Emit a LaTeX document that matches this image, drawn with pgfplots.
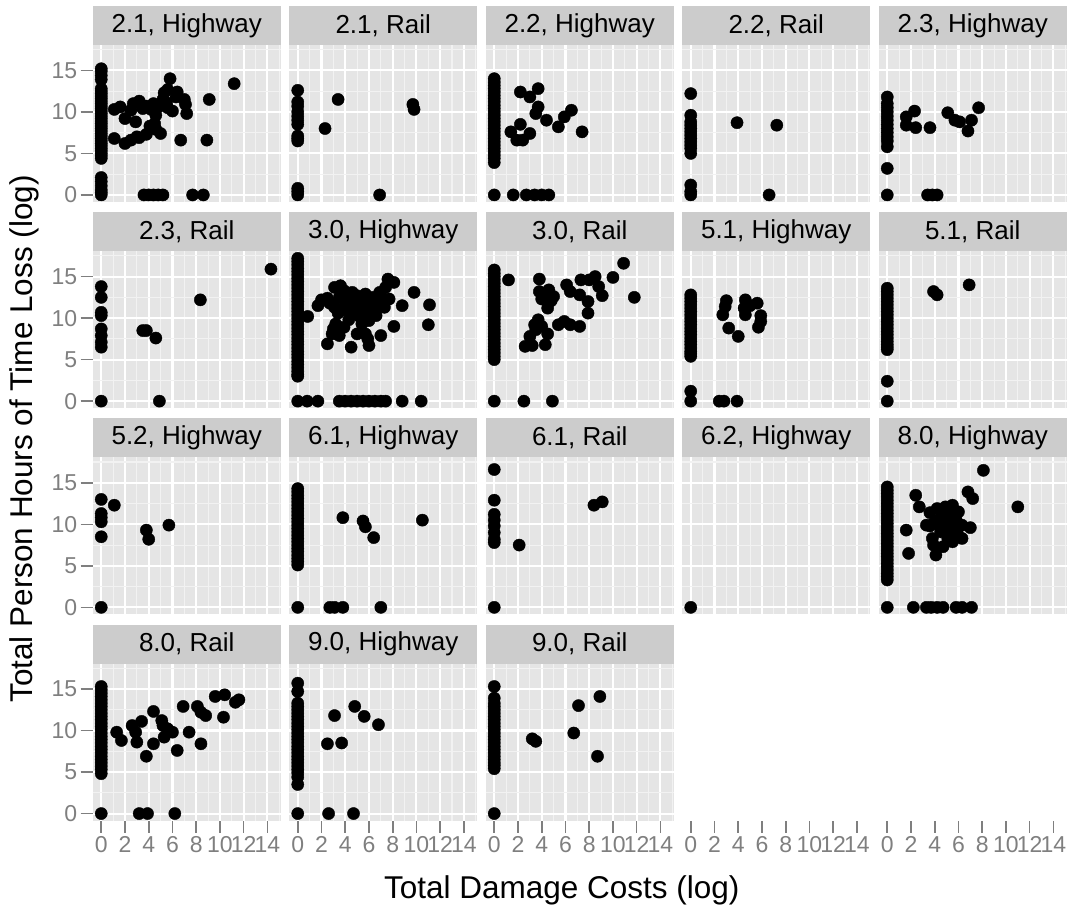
\documentclass[border=0pt]{standalone}
\usepackage{pgfplots}
\pgfplotsset{compat=1.18}
\usepackage{fontspec}
\setmainfont{Liberation Sans}
\definecolor{pbg}{HTML}{E5E5E5}
\definecolor{gminor}{HTML}{F2F2F2}
\definecolor{stripc}{HTML}{CCCCCC}
\definecolor{grey50}{HTML}{7F7F7F}
\newcommand{\ticksize}{\fontsize{23}{27}\selectfont}
\newcommand{\stripsize}{\fontsize{26}{30}\selectfont}
\newcommand{\titlesize}{\fontsize{31.5}{36}\selectfont}
\pgfplotsset{
 fac/.style={
  width=188pt, height=157.1pt, scale only axis, anchor=south west,
  xmin=-0.72, xmax=15.12, ymin=-0.86, ymax=18.06,
  axis lines*=left, axis line style={draw=none},
  axis background/.style={fill=pbg},
  xtick={0,2,...,14}, ytick={0,5,10,15},
  minor xtick={1,3,...,15}, minor ytick={2.5,7.5,12.5,17.5},
  grid=both, major grid style={white, line width=2.1pt},
  minor grid style={gminor, line width=1.1pt},
  tick align=outside, major tick length=12pt, minor tick length=0pt,
  tick style={grey50, line width=1.6pt},
  minor tick style={draw=none},
  tick label style={font=\ticksize, text=grey50},
  /pgf/number format/assume math mode=true,
  xmajorticks=false, ymajorticks=false,
  every axis title/.style={at={(0.5,1)}, anchor=south, fill=stripc,
    minimum width=188pt, minimum height=39pt, inner sep=0pt, outer sep=0pt,
    font=\stripsize, text=black},
 },
 yt/.style={ymajorticks=true},
 xt/.style={xmajorticks=true},
 pts/.style={only marks, mark=*, mark size=6.1pt, black},
}
\begin{document}
\begin{tikzpicture}
\useasboundingbox (0,0) rectangle (1076pt,909pt);
% ---------------- row 1
\begin{axis}[fac, yt, at={(92.7pt,706.9pt)}, title={2.1, Highway}]
\addplot[pts] coordinates {(0,15.2)(0,14.9)(0,14.4)(0,13.9)(0,12.8)(0,12.5)(0,12.2)(0,11.9)(0,11.6)(0,11.3)(0,11.0)(0,10.7)(0,10.4)(0,10.1)(0,9.8)(0,9.5)(0,9.2)(0,8.9)(0,8.6)(0,8.3)(0,8.0)(0,7.7)(0,7.4)(0,7.1)(0,6.8)(0,6.5)(0,6.2)(0,5.9)(0,5.6)(0,5.3)(0,5.0)(0,4.7)(0,4.4)(0,2.1)(0,1.6)(0,1.1)(0,0.6)(0,0.3)(0,0)
(1.1,10.3)(1.1,6.8)(2.0,9.2)(2.0,6.2)(2.5,10.2)(2.5,6.6)(2.9,8.8)(3.2,11.3)(3.2,6.9)(3.8,10.7)(3.8,7.3)(4.2,10.3)(4.1,8.3)(4.5,8.6)(4.6,9.6)(4.8,10.6)(5.0,7.4)(5.2,11.5)(5.3,12.3)(5.8,14.0)(5.6,12.7)(5.5,11.1)(6.0,10.1)(6.4,12.4)(7.0,11.5)(7.2,9.8)(6.7,6.6)(9.1,11.5)(8.9,6.6)(11.2,13.4)(1.6,10.6)(2.7,11.0)(3.5,10.4)(4.4,11.0)(3.0,7.0)(4.6,7.9)(5.6,10.5)(6.3,11.8)(7.1,10.9)
(3.6,0)(4.0,0)(4.4,0)(4.8,0)(5.2,0)(7.7,0)(8.6,0)};
\end{axis}
\begin{axis}[fac, at={(289.2pt,706.9pt)}, title={2.1, Rail}]
\addplot[pts] coordinates {(0,12.6)(0,11.2)(0,10.7)(0,10.0)(0,9.5)(0,9.0)(0,8.5)(0,7.1)(0,6.8)(0,6.5)(0,0.8)(0,0.4)(0,0)(3.4,11.5)(2.3,8.0)(9.7,10.9)(9.8,10.3)(6.9,0)};
\end{axis}
\begin{axis}[fac, at={(485.7pt,706.9pt)}, title={2.2, Highway}]
\addplot[pts] coordinates {(0,14.0)(0,13.6)(0,13.2)(0,12.8)(0,12.4)(0,12.0)(0,11.6)(0,11.2)(0,10.8)(0,10.4)(0,10.0)(0,9.6)(0,9.2)(0,8.8)(0,8.4)(0,8.0)(0,7.6)(0,7.2)(0,6.8)(0,6.4)(0,6.0)(0,5.6)(0,5.2)(0,4.8)(0,4.4)(0,3.9)(0,0)
(2.2,12.4)(3.0,11.8)(3.7,12.8)(3.7,10.6)(3.5,9.8)(4.4,9.0)(6.5,10.2)(5.9,9.4)(5.4,8.2)(2.2,8.5)(1.4,7.6)(1.9,6.6)(3.0,7.4)(7.4,7.6)(2.4,6.6)
(1.6,0)(2.7,0)(3.4,0)(4.0,0)(4.6,0)};
\end{axis}
\begin{axis}[fac, at={(682.2pt,706.9pt)}, title={2.2, Rail}]
\addplot[pts] coordinates {(0,12.2)(0,9.6)(0,8.8)(0,8.4)(0,8.0)(0,7.6)(0,7.2)(0,6.8)(0,6.4)(0,6.0)(0,5.6)(0,5.0)(0,1.2)(0,0.4)(0,0)(3.9,8.7)(7.25,8.4)(6.6,0)};
\end{axis}
\begin{axis}[fac, at={(878.7pt,706.9pt)}, title={2.3, Highway}]
\addplot[pts] coordinates {(0,11.8)(0,11.0)(0,10.5)(0,10.0)(0,9.5)(0,9.0)(0,8.5)(0,8.0)(0,7.5)(0,7.0)(0,6.5)(0,5.8)(0,3.2)(0,0)(2.3,10.1)(1.6,9.4)(1.6,8.4)(2.4,8.1)(3.6,8.1)(5.1,9.9)(5.7,9.0)(6.1,8.8)(7.1,9.0)(6.8,7.7)(7.7,10.5)(3.4,0)(3.8,0)(4.2,0)};
\end{axis}
% ---------------- row 2
\begin{axis}[fac, yt, at={(92.7pt,500.7pt)}, title={2.3, Rail}]
\addplot[pts] coordinates {(0,13.8)(0,12.5)(0,10.7)(0,10.3)(0,8.7)(0,7.9)(0,7.1)(0,6.5)(0,0)(3.5,8.5)(3.8,8.5)(4.6,7.6)(4.9,0)(8.35,12.2)(14.3,15.9)};
\end{axis}
\begin{axis}[fac, at={(289.2pt,500.7pt)}, title={3.0, Highway}]
\addplot[pts] coordinates {(0,17.2)(0,16.8)(0,16.4)(0,16.0)(0,15.6)(0,15.2)(0,14.8)(0,14.4)(0,14.0)(0,13.6)(0,13.2)(0,12.8)(0,12.4)(0,12.0)(0,11.6)(0,11.2)(0,10.8)(0,10.4)(0,10.0)(0,9.6)(0,9.2)(0,8.8)(0,8.4)(0,8.0)(0,7.6)(0,7.2)(0,6.8)(0,6.4)(0,6.0)(0,5.6)(0,5.2)(0,4.8)(0,4.4)(0,4.0)(0,3.6)(0,3.2)(0,3.0)(0,0)
(0.84,10.2)(1.7,11.5)(2.0,12.2)(2.5,12.4)(3.1,13.7)(3.6,13.9)(3.9,13.3)(4.2,12.3)(4.6,13.1)(5.0,12.7)(5.5,12.3)(5.7,12.9)(6.3,12.5)(6.9,13.1)(7.4,13.7)(7.6,14.7)(8.1,14.3)(7.3,11.3)(7.7,12.3)
(3.8,11.0)(4.3,11.4)(4.9,11.0)(5.4,11.8)(6.0,11.4)(6.5,11.2)(4.6,10.6)(5.2,10.2)(5.7,10.8)(3.4,10.6)(3.1,11.3)(4.0,11.9)(4.8,12.0)(5.3,11.3)(6.2,12.0)(6.8,11.8)(7.0,12.6)(2.7,11.8)(3.5,12.5)(4.4,12.7)(5.9,10.5)(6.6,10.3)
(3.2,9.3)(3.9,8.9)(2.9,8.1)(2.5,6.9)(3.5,7.9)(4.5,6.5)(5.0,8.1)(5.7,8.1)(5.9,7.5)(6.0,6.7)(6.0,9.7)(7.0,7.9)(8.1,9.0)(8.8,11.5)(9.8,13.1)(11.1,11.6)(11.0,9.2)(4.3,9.8)(5.4,9.3)(3.0,8.7)
(0.8,0)(1.7,0)(3.5,0)(4.0,0)(4.5,0)(5.0,0)(5.5,0)(6.0,0)(6.5,0)(7.0,0)(7.4,0)(8.8,0)(10.4,0)};
\end{axis}
\begin{axis}[fac, at={(485.7pt,500.7pt)}, title={3.0, Rail}]
\addplot[pts] coordinates {(0,15.8)(0,15.4)(0,15.0)(0,14.6)(0,14.2)(0,13.8)(0,13.4)(0,13.0)(0,12.6)(0,12.2)(0,11.8)(0,11.4)(0,11.0)(0,10.6)(0,10.2)(0,9.8)(0,9.4)(0,9.0)(0,8.6)(0,8.2)(0,7.8)(0,7.4)(0,7.0)(0,6.6)(0,6.2)(0,5.8)(0,5.4)(0,5.0)(0,0)(2.5,0)(4.9,0)
(1.2,14.6)(3.8,14.7)(3.8,13.2)(4.0,12.3)(4.6,13.4)(5.0,12.6)(4.5,11.2)(6.1,14.0)(6.4,13.2)(7.2,12.8)(7.3,14.6)(8.0,14.6)(8.5,15.0)(8.8,13.8)(9.1,12.7)(7.9,12.0)(7.9,10.6)(10.0,14.9)(10.9,16.6)(11.8,12.5)(3.7,9.8)(3.4,9.2)(3.5,8.6)(3.0,7.8)(2.6,6.6)(3.2,6.7)(4.3,6.8)(4.5,8.1)(4.0,9.0)(5.4,9.2)(5.9,9.6)(6.4,9.2)(7.2,9.0)(4.3,12.8)(4.8,12.1)};
\end{axis}
\begin{axis}[fac, at={(682.2pt,500.7pt)}, title={5.1, Highway}]
\addplot[pts] coordinates {(0,12.8)(0,12.4)(0,12.0)(0,11.6)(0,11.2)(0,10.8)(0,10.4)(0,10.0)(0,9.6)(0,9.2)(0,8.8)(0,8.4)(0,8.0)(0,7.6)(0,7.2)(0,6.8)(0,6.4)(0,6.0)(0,5.7)(0,5.4)(0,1.2)(0,0)(2.4,0)(2.8,0)(3.9,0)
(3.0,12.1)(2.9,11.4)(2.7,10.4)(4.6,12.2)(4.5,11.2)(4.6,10.4)(5.6,11.8)(5.9,10.3)(5.7,8.9)(3.2,8.8)(4.0,7.8)(5.0,11.5)(5.9,9.6)};
\end{axis}
\begin{axis}[fac, at={(878.7pt,500.7pt)}, title={5.1, Rail}]
\addplot[pts] coordinates {(0,13.6)(0,13.2)(0,12.8)(0,12.4)(0,12.0)(0,11.6)(0,11.2)(0,10.8)(0,10.4)(0,10.0)(0,9.6)(0,9.2)(0,8.8)(0,8.4)(0,8.0)(0,7.6)(0,7.2)(0,6.8)(0,6.5)(0,6.2)(0,2.4)(0,0)(3.9,13.2)(4.2,12.8)(6.9,14.0)};
\end{axis}
% ---------------- row 3
\begin{axis}[fac, yt, at={(92.7pt,294.5pt)}, title={5.2, Highway}]
\addplot[pts] coordinates {(0,13.0)(0,11.3)(0,10.8)(0,10.3)(0,8.5)(0,0)(1.1,12.3)(3.8,9.3)(4.0,8.2)(5.7,9.9)};
\end{axis}
\begin{axis}[fac, at={(289.2pt,294.5pt)}, title={6.1, Highway}]
\addplot[pts] coordinates {(0,14.3)(0,13.9)(0,13.5)(0,13.1)(0,12.7)(0,12.3)(0,11.9)(0,11.5)(0,11.1)(0,10.7)(0,10.3)(0,9.9)(0,9.5)(0,9.1)(0,8.7)(0,8.3)(0,7.9)(0,7.5)(0,7.1)(0,6.7)(0,6.3)(0,5.9)(0,5.5)(0,5.1)(0,0)(2.7,0)(3.1,0)(3.8,0)(7.0,0)
(3.8,10.8)(5.5,10.4)(5.7,9.7)(6.4,8.4)(10.5,10.5)};
\end{axis}
\begin{axis}[fac, at={(485.7pt,294.5pt)}, title={6.1, Rail}]
\addplot[pts] coordinates {(0,16.6)(0,12.9)(0,11.2)(0,10.5)(0,9.8)(0,9.0)(0,8.2)(0,7.8)(0,0)(2.1,7.5)(8.4,12.3)(9.1,12.7)};
\end{axis}
\begin{axis}[fac, at={(682.2pt,294.5pt)}, title={6.2, Highway}]
\addplot[pts] coordinates {(0,0)};
\end{axis}
\begin{axis}[fac, at={(878.7pt,294.5pt)}, title={8.0, Highway}]
\addplot[pts] coordinates {(0,14.5)(0,14.1)(0,13.7)(0,13.3)(0,12.9)(0,12.5)(0,12.1)(0,11.7)(0,11.3)(0,10.9)(0,10.5)(0,10.1)(0,9.7)(0,9.3)(0,8.9)(0,8.5)(0,8.1)(0,7.7)(0,7.3)(0,6.9)(0,6.5)(0,6.1)(0,5.7)(0,5.3)(0,4.9)(0,4.5)(0,4.1)(0,3.7)(0,3.3)(0,0)
(8.1,16.5)(11.0,12.1)(2.4,13.5)(2.7,12.1)(1.6,9.3)(1.8,6.5)(6.8,13.9)(7.2,13.1)(3.6,11.4)(4.2,11.9)(4.9,12.1)(5.5,12.3)(3.3,9.9)(3.9,10.1)(4.5,10.7)(5.2,11.1)(5.8,10.5)(6.3,9.9)(7.0,9.6)(3.9,7.5)(4.7,7.3)(5.5,7.9)(6.3,8.3)(4.1,6.3)(4.5,9.1)(5.3,8.9)(5.9,8.9)(3.6,9.8)(4.3,10.4)(5.0,10.0)(5.6,9.7)(6.0,11.5)(4.8,11.4)(3.8,8.3)(5.1,8.3)
(2.2,0)(3.3,0)(3.7,0)(4.2,0)(4.7,0)(5.8,0)(6.3,0)(7.1,0)};
\end{axis}
% ---------------- row 4
\begin{axis}[fac, yt, xt, at={(92.7pt,88.3pt)}, title={8.0, Rail}]
\addplot[pts] coordinates {(0,15.3)(0,14.9)(0,14.5)(0,14.1)(0,13.7)(0,13.3)(0,12.9)(0,12.5)(0,12.1)(0,11.7)(0,11.3)(0,10.9)(0,10.5)(0,10.1)(0,9.7)(0,9.3)(0,8.9)(0,8.5)(0,8.1)(0,7.7)(0,7.3)(0,6.9)(0,6.5)(0,6.1)(0,5.7)(0,5.3)(0,4.8)(0,0)(3.2,0)(3.9,0)(6.2,0)
(1.3,9.8)(1.7,8.8)(2.6,10.6)(2.9,9.8)(3.0,8.6)(3.4,11.1)(3.8,6.9)(4.4,12.3)(4.4,8.4)(5.1,11.2)(5.2,10.6)(5.3,9.2)(5.6,10.2)(6.0,9.8)(6.4,7.6)(6.9,12.9)(7.4,9.8)(8.1,12.9)(8.4,12.2)(8.8,11.8)(8.4,8.4)(9.6,14.1)(10.4,14.3)(10.3,11.6)(11.3,13.4)(11.6,13.7)};
\end{axis}
\begin{axis}[fac, xt, at={(289.2pt,88.3pt)}, title={9.0, Highway}]
\addplot[pts] coordinates {(0,15.7)(0,14.7)(0,13.3)(0,12.9)(0,12.5)(0,12.1)(0,11.7)(0,11.3)(0,10.9)(0,10.5)(0,10.1)(0,9.7)(0,9.3)(0,8.9)(0,8.5)(0,8.1)(0,7.7)(0,7.3)(0,6.9)(0,6.5)(0,6.1)(0,5.7)(0,5.3)(0,4.9)(0,4.4)(0,3.5)(0,0)
(2.5,8.4)(3.1,11.8)(3.7,8.5)(4.8,12.9)(5.6,11.7)(6.8,10.7)(2.6,0)(4.7,0)};
\end{axis}
\begin{axis}[fac, xt, at={(485.7pt,88.3pt)}, title={9.0, Rail}]
\addplot[pts] coordinates {(0,15.3)(0,13.9)(0,13.3)(0,12.9)(0,12.5)(0,12.1)(0,11.7)(0,11.3)(0,10.9)(0,10.5)(0,10.1)(0,9.7)(0,9.3)(0,8.9)(0,8.5)(0,8.1)(0,7.7)(0,7.3)(0,6.9)(0,6.5)(0,6.1)(0,5.8)(0,5.4)(0,0)
(3.2,9.0)(3.5,8.7)(6.7,9.7)(7.1,13.0)(8.9,14.1)(8.7,6.9)};
\end{axis}
% empty slots: x axis ticks only
\begin{axis}[fac, xt, at={(682.2pt,88.3pt)}, axis background/.style={}, grid=none]
\end{axis}
\begin{axis}[fac, xt, at={(878.7pt,88.3pt)}, axis background/.style={}, grid=none]
\end{axis}
% axis titles
\node[anchor=base, font=\titlesize] at (561.7pt,10pt) {Total Damage Costs (log)};
\node[rotate=90, anchor=base, font=\titlesize] at (32pt,470pt) {Total Person Hours of Time Loss (log)};
\end{tikzpicture}
\end{document}
